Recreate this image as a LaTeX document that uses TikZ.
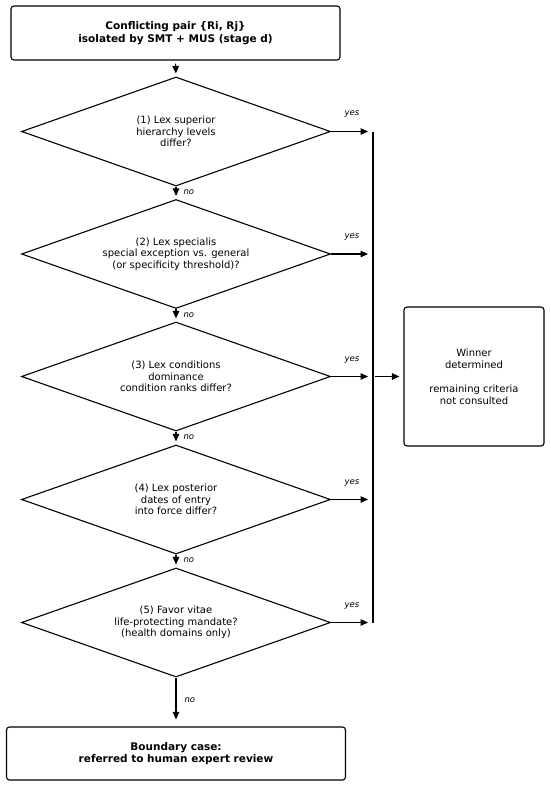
\documentclass[tikz,border=0pt]{standalone}
\usepackage{fontspec}
\setmainfont{DejaVu Sans}
\usetikzlibrary{shapes.geometric,arrows.meta}
\begin{document}
\begin{tikzpicture}[x=1pt,y=-1pt,
  box/.style={draw,line width=1.1pt,rounded corners=3pt,align=center,inner sep=0pt},
  dec/.style={draw,line width=1.1pt,shape=diamond,aspect=2.83,minimum width=309pt,minimum height=109pt,inner sep=0pt,align=center,font=\fontsize{10}{11.7}\selectfont},
  arr/.style={line width=1.1pt,-{Triangle[length=7.5pt,width=6.5pt]}},
  lbl/.style={font=\fontsize{8.5}{9}\selectfont\itshape},
  txt/.style={font=\fontsize{10}{12}\selectfont}]
\useasboundingbox (0,0) rectangle (550,787);
\node[box,minimum width=329pt,minimum height=54pt,font=\fontsize{10.5}{12.7}\selectfont\bfseries] (top) at (175.5,33) {Conflicting pair \{Ri, Rj\}\\isolated by SMT + MUS (stage d)};
\node[dec] (d1) at (176,131.5) {(1) Lex superior\\hierarchy levels\\differ?};
\node[dec] (d2) at (176,254) {(2) Lex specialis\\special exception vs. general\\(or specificity threshold)?};
\node[dec] (d3) at (176,376.5) {(3) Lex conditions\\dominance\\condition ranks differ?};
\node[dec] (d4) at (176,499.5) {(4) Lex posterior\\dates of entry\\into force differ?};
\node[dec] (d5) at (176,622.5) {(5) Favor vitae\\life-protecting mandate?\\(health domains only)};
\node[box,minimum width=339pt,minimum height=53pt,font=\fontsize{10.5}{12.7}\selectfont\bfseries] (bot) at (176,753.5) {Boundary case:\\referred to human expert review};
\node[box,minimum width=140pt,minimum height=139pt,txt] (win) at (474,376.5) {Winner\\determined\\[12pt]remaining criteria\\not consulted};
\coordinate (b1) at (373,131.5);
\coordinate (b5) at (373,622.5);
\coordinate (bm) at (373,376.5);
\draw[line width=1.1pt] (b1) -- (b5);
\draw[arr,shorten <=3pt,shorten >=3pt] (top.south) -- (d1.north);
\draw[arr,shorten >=3pt] (d1.south) -- (d2.north);
\draw[arr,shorten >=3pt] (d2.south) -- (d3.north);
\draw[arr,shorten >=3pt] (d3.south) -- (d4.north);
\draw[arr,shorten >=3pt] (d4.south) -- (d5.north);
\draw[arr,shorten >=7pt] (d5.south) -- (bot.north);
\draw[arr,shorten <=2pt,shorten >=4pt] (bm) -- (win.west);
\foreach \i in {1,...,5}{
  \coordinate (e\i) at ([xshift=40pt]d\i.east);
  \draw[arr] (d\i.east) -- ([xshift=-3pt]e\i);
  \node[lbl] at ([xshift=21pt,yshift=17pt]d\i.east) {yes};
}
\foreach \i in {1,...,4}{
  \node[lbl,anchor=west] at ([xshift=4pt,yshift=-6pt]d\i.south) {no};
}
\node[lbl,anchor=west] at (181,700) {no};
\end{tikzpicture}
\end{document}
